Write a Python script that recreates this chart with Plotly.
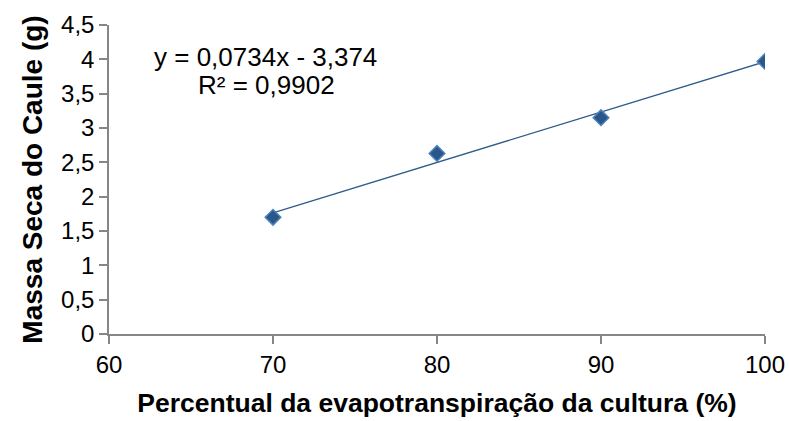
import plotly.graph_objects as go

# Data
x_vals = [70, 80, 90, 100]
y_vals = [1.70, 2.63, 3.15, 3.97]
slope = 0.0734
intercept = -3.374
eq_text = "y = 0,0734x - 3,374"
r2_text = "R² = 0,9902"
x_title = "Percentual da evapotranspiração da cultura (%)"
y_title = "Massa Seca do Caule (g)"

x_fit = [min(x_vals), max(x_vals)]
y_fit = [slope * v + intercept for v in x_fit]

FONT = "Liberation Sans, Arial, sans-serif"
AXC = "#868686"

fig = go.Figure()
fig.add_trace(go.Scatter(x=x_fit, y=y_fit, mode="lines",
                         line=dict(color="#2F5A8C", width=1.3),
                         hoverinfo="skip", showlegend=False))
fig.add_trace(go.Scatter(x=x_vals, y=y_vals, mode="markers",
                         marker=dict(symbol="diamond", size=12, color="#2A5789",
                                     line=dict(color="#4F81BD", width=1.5)),
                         showlegend=False))

fig.add_annotation(x=0.239, y=0.897, xref="paper", yref="paper",
                   xanchor="center", yanchor="middle",
                   text=eq_text, showarrow=False,
                   font=dict(family=FONT, size=26, color="#000"))
fig.add_annotation(x=0.24, y=0.806, xref="paper", yref="paper",
                   xanchor="center", yanchor="middle",
                   text=r2_text, showarrow=False,
                   font=dict(family=FONT, size=26, color="#000"))

fig.update_layout(
    width=789, height=421,
    margin=dict(l=109, r=24, t=25, b=87, autoexpand=False),
    paper_bgcolor="white", plot_bgcolor="white",
    separators=", ",
    font=dict(family=FONT, color="#000"),
    xaxis=dict(range=[60, 100], dtick=10, tick0=60, showgrid=False, zeroline=False,
               showline=True, linecolor=AXC, linewidth=1.5, automargin=False,
               ticks="outside", ticklen=8, tickcolor=AXC, tickwidth=1.5,
               tickfont=dict(size=24, family=FONT, color="#000"),
               title=dict(text="<b>" + x_title + "</b>", standoff=17,
                          font=dict(size=26.5, family=FONT, color="#000"))),
    yaxis=dict(range=[0, 4.5], dtick=0.5, tick0=0, showgrid=False, zeroline=False,
               showline=True, linecolor=AXC, linewidth=1.5, automargin=False,
               ticks="outside", ticklen=8, tickcolor=AXC, tickwidth=1.5,
               tickfont=dict(size=24, family=FONT, color="#000"),
               title=dict(text="<b>" + y_title + "</b>", standoff=10,
                          font=dict(size=28, family=FONT, color="#000"))),
)

fig.write_html("out.html", config={"displayModeBar": False},
               post_script="document.body.style.margin='0';document.body.style.overflow='hidden';")
